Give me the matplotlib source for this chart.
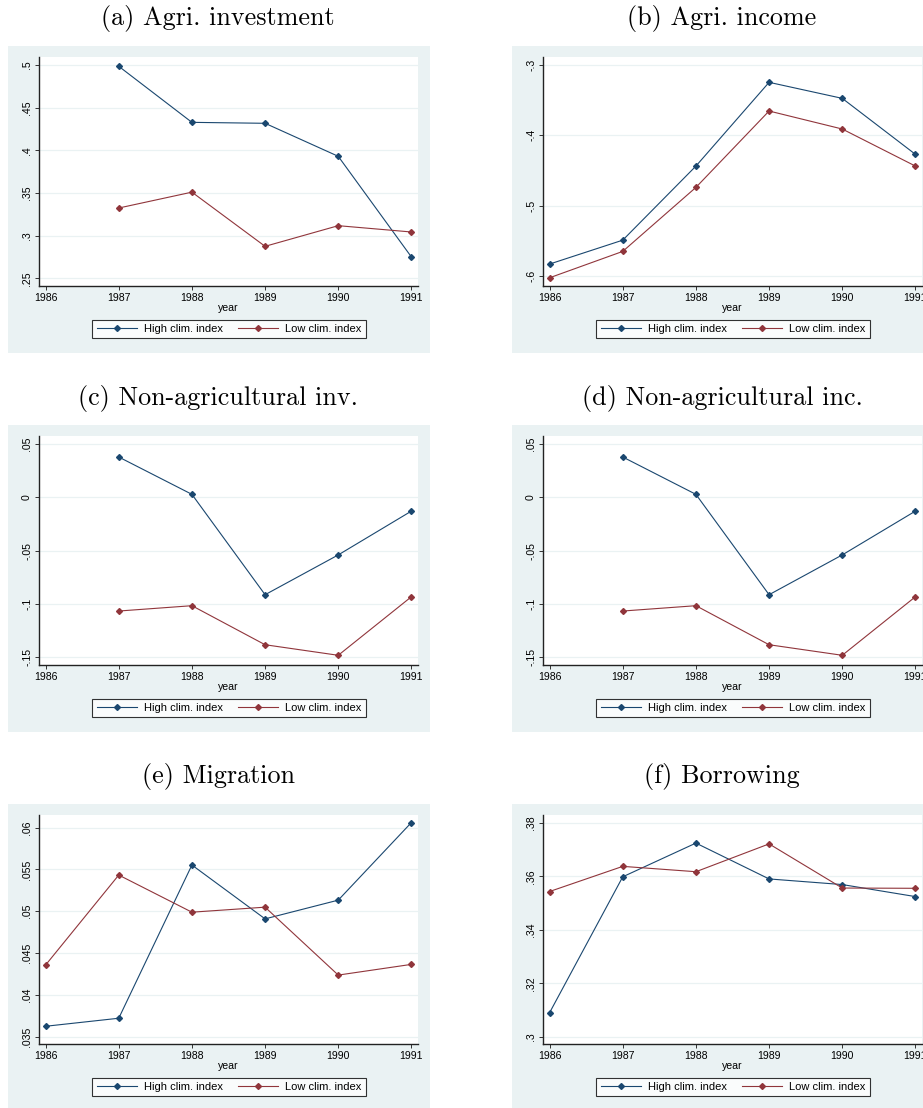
import numpy as np
import matplotlib
matplotlib.use('Agg')
import matplotlib.pyplot as plt
from matplotlib.ticker import FuncFormatter

years = [1986, 1987, 1988, 1989, 1990, 1991]
nan = np.nan

# (a) Agri. investment
inv_high = [nan, .4985, .4328, .4317, .393, .275]
inv_low = [nan, .3324, .351, .2875, .3117, .3043]
# (b) Agri. income
inc_high = [-.583, -.549, -.4437, -.3246, -.3474, -.427]
inc_low = [-.6025, -.565, -.474, -.3654, -.391, -.4437]
# (c) / (d) Non-agricultural inv. / inc.
nai_high = [nan, .0378, .0028, -.0913, -.054, -.0129]
nai_low = [nan, -.1066, -.1016, -.1382, -.1481, -.0932]
nainc_high = [nan, .0378, .0028, -.0913, -.054, -.0129]
nainc_low = [nan, -.1066, -.1016, -.1382, -.1481, -.0932]
# (e) Migration
mig_high = [.03624, .0372, .05552, .04908, .05132, .0606]
mig_low = [.04356, .05432, .04988, .05048, .04236, .04364]
# (f) Borrowing
bor_high = [.309, .3598, .3724, .359, .3569, .3524]
bor_low = [.3543, .3637, .3617, .3721, .3556, .3555]

titles = ['(a) Agri. investment', '(b) Agri. income',
          '(c) Non-agricultural inv.', '(d) Non-agricultural inc.',
          '(e) Migration', '(f) Borrowing']
series = [(inv_high, inv_low), (inc_high, inc_low), (nai_high, nai_low),
          (nainc_high, nainc_low), (mig_high, mig_low), (bor_high, bor_low)]
yticks = [np.arange(.25, .5001, .05), np.arange(-.6, -.2999, .1),
          np.arange(-.15, .0501, .05), np.arange(-.15, .0501, .05),
          np.arange(.035, .0601, .005), np.arange(.30, .3801, .02)]
ylims = [(.241, .5094), (-.6142, -.2886), (-.1572, .0575), (-.1572, .0575),
         (.03412, .0615), (.2973, .3829)]

BG = '#eaf2f3'
NAVY = '#1a476f'
MAROON = '#90353b'

W, H = 923, 1108
fig = plt.figure(figsize=(W / 100, H / 100), dpi=100)
fig.patch.set_facecolor('white')


def stata_fmt(v, pos):
    s = '%g' % round(v, 6)
    if s.startswith('0.'):
        s = s[1:]
    elif s.startswith('-0.'):
        s = '-' + s[2:]
    return s


def px(x0, y0, x1, y1):
    return [x0 / W, 1 - y1 / H, (x1 - x0) / W, (y1 - y0) / H]


for i in range(6):
    col, row = i % 2, i // 2
    dx = 504 * col
    dy = 379 * row
    bg = fig.add_axes(px(8 + dx, 46 + dy, 430 + dx, 353 + dy))
    bg.set_facecolor(BG)
    bg.set_xticks([])
    bg.set_yticks([])
    for s in bg.spines.values():
        s.set_visible(False)

    fig.text((218 + dx) / W, 1 - (19 + dy) / H, titles[i], family='cmr10',
             fontsize=18.8, ha='center', va='center')

    ax = fig.add_axes(px(39 + dx, 57 + dy, 418 + dx, 286 + dy))
    ax.set_facecolor('white')
    high, low = series[i]
    ax.plot(years, high, color=NAVY, lw=0.8, marker='D', ms=3,
            label='High clim. index')
    ax.plot(years, low, color=MAROON, lw=0.8, marker='D', ms=3,
            label='Low clim. index')
    ax.set_xlim(1985.91, 1991.09)
    ax.set_ylim(*ylims[i])
    ax.set_xticks(years)
    ax.set_yticks(yticks[i])
    ax.yaxis.set_major_formatter(FuncFormatter(stata_fmt))
    ax.grid(axis='y', color=BG, lw=0.9)
    ax.set_axisbelow(True)
    for side in ['top', 'right']:
        ax.spines[side].set_visible(False)
    for side in ['left', 'bottom']:
        ax.spines[side].set_color('#222222')
        ax.spines[side].set_linewidth(1.0)
    ax.tick_params(axis='both', labelsize=7.6, length=3, width=0.7,
                   color='#333333', pad=2, labelfontfamily='Liberation Sans')
    for lab in ax.get_yticklabels():
        lab.set_rotation(90)
        lab.set_va('center')
    ax.set_xlabel('year', fontsize=7.6, family='Liberation Sans', labelpad=0)
    leg = ax.legend(loc='center', ncol=2,
                    bbox_to_anchor=((229 + dx) / W, 1 - (329 + dy) / H),
                    bbox_transform=fig.transFigure, frameon=True,
                    fancybox=False, edgecolor='black', handlelength=3.6,
                    columnspacing=1.35, borderpad=0.4, handletextpad=0.63,
                    prop={'family': 'Liberation Sans', 'size': 8})
    leg.get_frame().set_linewidth(0.8)

fig.savefig('out.png', dpi=100)
